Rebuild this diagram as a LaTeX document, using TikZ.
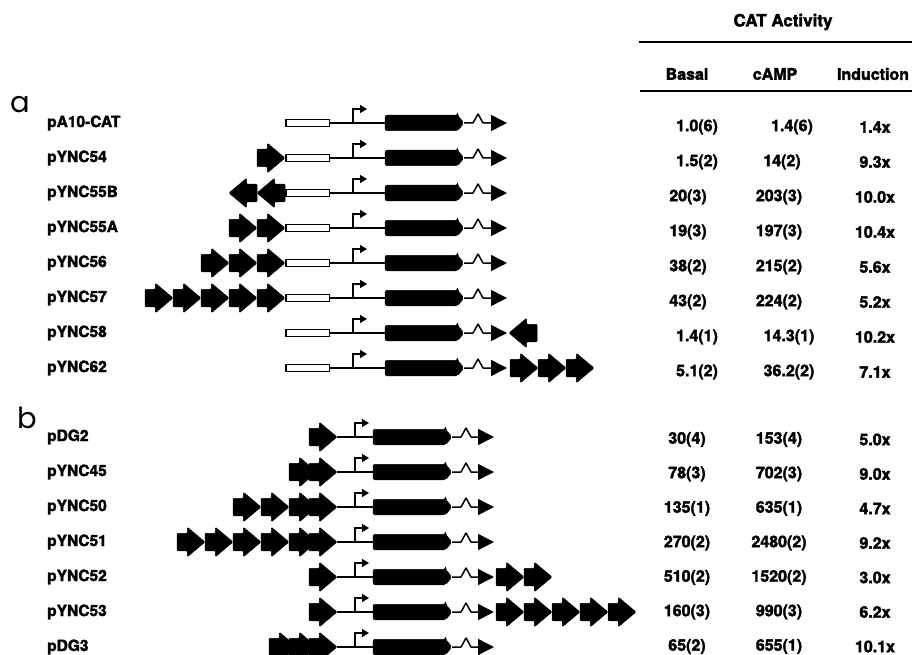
\documentclass[tikz,border=0pt]{standalone}
\usepackage{fontspec}
\setmainfont{TeX Gyre Heros}[BoldFeatures={FakeBold=2.2}]
\newfontfamily\panelfont{Poppins}
\usepackage{tikz}
\usetikzlibrary{positioning,shapes.arrows,arrows.meta}

\begin{document}
\begin{tikzpicture}[x=1pt, y=-1pt,
labelnode/.style={font=\bfseries\fontsize{15.5}{18}\selectfont, inner sep=0pt, anchor=west},
valuenode/.style={font=\bfseries\fontsize{16}{19}\selectfont, inner sep=0pt},
panelnode/.style={font=\panelfont\fontsize{29}{34}\selectfont, inner sep=0pt},
boxnode/.style={rectangle, draw=black, fill=white, line width=1.5pt, minimum width=43.5pt, minimum height=7pt, inner sep=0pt},
catnode/.style={single arrow, draw=black, fill=black, line width=0.5pt, rounded corners=2pt, inner xsep=0pt, inner ysep=7.5pt, minimum height=79pt, single arrow head extend=0pt, single arrow tip angle=100, outer sep=0pt},
enhancernode/.style={single arrow, draw=black, fill=black, line width=0.5pt, rounded corners=1pt, inner xsep=0pt, inner ysep=8.5pt, minimum height=28pt, single arrow head extend=6pt, single arrow tip angle=80, outer sep=0pt},
enhancer_reverse/.style={enhancernode, shape border rotate=180},
dna_line/.style={line width=1.5pt},
promoter_arrow/.style={-{Triangle[length=7pt,width=8pt]}, line width=1.5pt},
tail_line/.style={-{Triangle[length=16pt,width=16pt]}, line width=1.5pt, line join=round},
rule/.style={line width=2pt}
]
\useasboundingbox (0,0) rectangle (912,655);
\clip (0,0) rectangle (912,655);

%Nodes table head
\node[valuenode, font=\bfseries\fontsize{17}{20}\selectfont] (title) at (783,22) {CAT Activity};
\node[valuenode] (head_basal) at (687,74) {Basal};
\node[valuenode] (head_camp) at (775,74) {cAMP};
\node[valuenode] (head_ind) at (873,74) {Induction};
\draw[rule] (639,42) -- (912,42);
\draw[rule] (640,91) -- (912,91);

%Nodes panels
\node[panelnode] (panel_a) at (20,105) {a};
\node[panelnode] (panel_b) at (27,418) {b};

%Rows a
\foreach \name/\row/\basal/\bx/\camp/\cx/\ind [count=\i] in {
pA10-CAT/123/1.0(6)/697/1.4(6)/792/1.4x,
pYNC54/158/1.5(2)/697/14(2)/782/9.3x,
pYNC55B/193/20(3)/688/203(3)/779/10.0x,
pYNC55A/228/19(3)/688/197(3)/779/10.4x,
pYNC56/263/38(2)/688/215(2)/779/5.6x,
pYNC57/298/43(2)/688/224(2)/779/5.2x,
pYNC58/333/1.4(1)/697/14.3(1)/789/10.2x,
pYNC62/368/5.1(2)/697/36.2(2)/789/7.1x}
{
\node[labelnode] (label_a\i) at (47,\row) {\name};
\node[boxnode] (box_a\i) at (307.5,\row) {};
\node[catnode, anchor=tail] (cat_a\i) at ([xshift=55pt]box_a\i.east) {};
\coordinate[right=23pt of box_a\i.east] (prom_a\i);
\coordinate[right=43pt of cat_a\i.tip] (end_a\i);
\draw[dna_line] (box_a\i.east) -- (cat_a\i.tail);
\draw[promoter_arrow] (prom_a\i) -- ++(0,-14) -- ++(14,0);
\draw[tail_line] (cat_a\i.tip) -- ++(9,0) -- ++(5,-9) -- ++(5,9) -- (end_a\i);
\node[valuenode] (basal_a\i) at (\bx,{\row+4}) {\basal};
\node[valuenode] (camp_a\i) at (\cx,{\row+4}) {\camp};
\node[valuenode] (ind_a\i) at (875,{\row+4}) {\ind};
}

%Rows b
\foreach \name/\row/\basal/\camp/\ind [count=\i] in {
pDG2/437/30(4)/153(4)/5.0x,
pYNC45/472/78(3)/702(3)/9.0x,
pYNC50/507/135(1)/635(1)/4.7x,
pYNC51/542/270(2)/2480(2)/9.2x,
pYNC52/577/510(2)/1520(2)/3.0x,
pYNC53/612/160(3)/990(3)/6.2x,
pDG3/647/65(2)/655(1)/10.1x}
{
\node[labelnode] (label_b\i) at (47,\row) {\name};
\node[enhancernode, anchor=tip] (enh_b\i_1) at (337,\row) {};
\node[catnode, anchor=tail] (cat_b\i) at ([xshift=36pt]enh_b\i_1.tip) {};
\coordinate[right=18pt of enh_b\i_1.tip] (prom_b\i);
\coordinate[right=42pt of cat_b\i.tip] (end_b\i);
\draw[dna_line] (enh_b\i_1.tip) -- (cat_b\i.tail);
\draw[promoter_arrow] (prom_b\i) -- ++(0,-14) -- ++(14,0);
\draw[tail_line] (cat_b\i.tip) -- ++(9,0) -- ++(5,-9) -- ++(5,9) -- (end_b\i);
\node[valuenode] (basal_b\i) at (687,{\row+3-0.5*\i}) {\basal};
\node[valuenode] (camp_b\i) at (779,{\row+3-0.5*\i}) {\camp};
\node[valuenode] (ind_b\i) at (875,{\row+3-0.5*\i}) {\ind};
}

%Nodes enhancers a
\node[enhancernode, anchor=tip] (enh_a2_1) at (box_a2.west) {};

\node[enhancer_reverse, anchor=tail] (enh_a3_1) at (box_a3.west) {};
\node[enhancer_reverse, anchor=tail] (enh_a3_2) at (enh_a3_1.tip) {};

\node[enhancernode, anchor=tip] (enh_a4_1) at (box_a4.west) {};
\node[enhancernode, anchor=tip] (enh_a4_2) at (enh_a4_1.tail) {};

\node[enhancernode, anchor=tip] (enh_a5_1) at (box_a5.west) {};
\node[enhancernode, anchor=tip] (enh_a5_2) at (enh_a5_1.tail) {};
\node[enhancernode, anchor=tip] (enh_a5_3) at (enh_a5_2.tail) {};

\node[enhancernode, anchor=tip] (enh_a6_1) at (box_a6.west) {};
\node[enhancernode, anchor=tip] (enh_a6_2) at (enh_a6_1.tail) {};
\node[enhancernode, anchor=tip] (enh_a6_3) at (enh_a6_2.tail) {};
\node[enhancernode, anchor=tip] (enh_a6_4) at (enh_a6_3.tail) {};
\node[enhancernode, anchor=tip] (enh_a6_5) at (enh_a6_4.tail) {};

\node[enhancer_reverse, anchor=tip] (enh_a7_1) at ([xshift=2pt]end_a7) {};

\node[enhancernode, anchor=tail] (enh_a8_1) at ([xshift=3pt]end_a8) {};
\node[enhancernode, anchor=tail] (enh_a8_2) at (enh_a8_1.tip) {};
\node[enhancernode, anchor=tail] (enh_a8_3) at (enh_a8_2.tip) {};

%Nodes enhancers b
\node[enhancernode, anchor=tip] (enh_b2_2) at ([xshift=8pt]enh_b2_1.tail) {};

\node[enhancernode, anchor=tip] (enh_b3_2) at ([xshift=8pt]enh_b3_1.tail) {};
\node[enhancernode, anchor=tip] (enh_b3_3) at (enh_b3_2.tail) {};
\node[enhancernode, anchor=tip] (enh_b3_4) at (enh_b3_3.tail) {};

\node[enhancernode, anchor=tip] (enh_b4_2) at ([xshift=8pt]enh_b4_1.tail) {};
\node[enhancernode, anchor=tip] (enh_b4_3) at (enh_b4_2.tail) {};
\node[enhancernode, anchor=tip] (enh_b4_4) at (enh_b4_3.tail) {};
\node[enhancernode, anchor=tip] (enh_b4_5) at (enh_b4_4.tail) {};
\node[enhancernode, anchor=tip] (enh_b4_6) at (enh_b4_5.tail) {};

\node[enhancernode, anchor=tail] (enh_b5_2) at ([xshift=2pt]end_b5) {};
\node[enhancernode, anchor=tail] (enh_b5_3) at (enh_b5_2.tip) {};

\node[enhancernode, anchor=tail] (enh_b6_2) at ([xshift=2pt]end_b6) {};
\node[enhancernode, anchor=tail] (enh_b6_3) at (enh_b6_2.tip) {};
\node[enhancernode, anchor=tail] (enh_b6_4) at (enh_b6_3.tip) {};
\node[enhancernode, anchor=tail] (enh_b6_5) at (enh_b6_4.tip) {};
\node[enhancernode, anchor=tail] (enh_b6_6) at (enh_b6_5.tip) {};

\node[enhancernode, anchor=tip] (enh_b7_2) at ([xshift=8pt]enh_b7_1.tail) {};
\node[enhancernode, anchor=tip] (enh_b7_3) at ([xshift=8pt]enh_b7_2.tail) {};

\end{tikzpicture}
\end{document}
